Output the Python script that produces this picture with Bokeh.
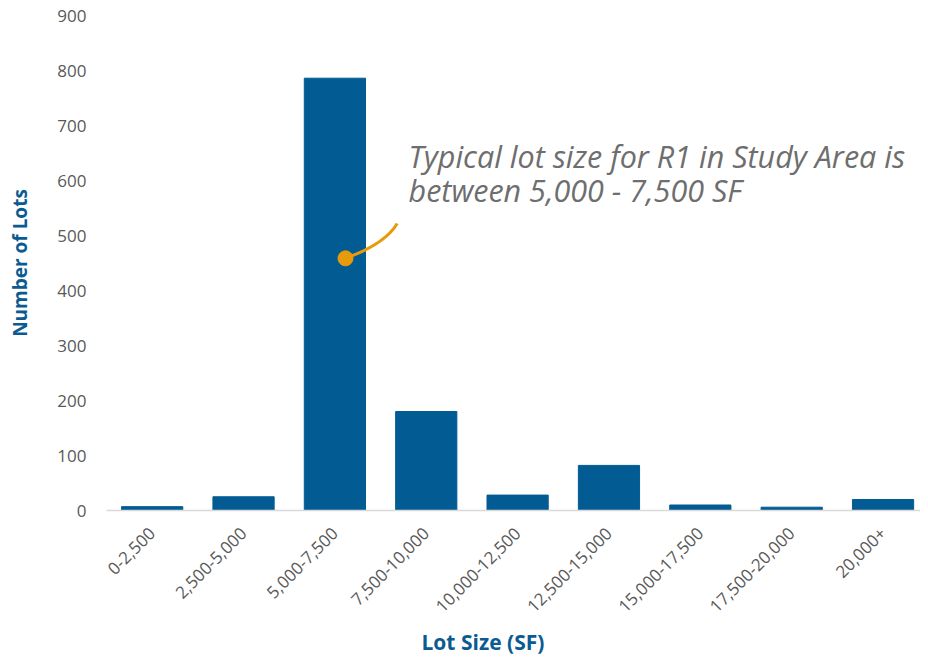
import math
from bokeh.plotting import figure
from bokeh.models import Range1d, FixedTicker, Label, Title, ColumnDataSource
from bokeh.embed import file_html
from bokeh.resources import INLINE

# ---- data ----
categories = ["0-2,500", "2,500-5,000", "5,000-7,500", "7,500-10,000",
              "10,000-12,500", "12,500-15,000", "15,000-17,500",
              "17,500-20,000", "20,000+"]
lots = [7, 25, 786, 180, 28, 82, 10, 6, 20]
y_ticks = [0, 100, 200, 300, 400, 500, 600, 700, 800, 900]

annotation_lines = ["Typical lot size for R1 in Study Area is",
                    "between 5,000 - 7,500 SF"]

BAR_COLOR = "#035B93"
ORANGE = "#E89B0A"
BLUE_TITLE = "#0A5B91"
GREY = "#595959"

xs = list(range(len(categories)))
src = ColumnDataSource(dict(x=xs, top=lots))

p = figure(width=920, height=660, output_backend="svg", toolbar_location=None,
           x_range=Range1d(-0.5, 8.41), y_range=Range1d(0, 900),
           min_border_left=106, min_border_right=0, min_border_top=15,
           min_border_bottom=149)
p.outline_line_color = None
p.background_fill_color = "white"
p.border_fill_color = "white"
p.xgrid.grid_line_color = None
p.ygrid.grid_line_color = None

p.vbar(x="x", top="top", width=0.67, source=src, color=BAR_COLOR)

# axes
p.xaxis.ticker = FixedTicker(ticks=xs)
p.xaxis.major_label_overrides = {i: c for i, c in enumerate(categories)}
p.xaxis.major_label_orientation = math.pi / 4
p.xaxis.major_tick_line_color = None
p.xaxis.minor_tick_line_color = None
p.xaxis.major_tick_out = 0
p.xaxis.axis_line_color = "#D9D9D9"
p.xaxis.axis_line_width = 1.5
p.xaxis.major_label_text_font = "Open Sans"
p.xaxis.major_label_text_font_size = "17px"
p.xaxis.major_label_text_color = GREY
p.xaxis.major_label_standoff = 20

p.yaxis.ticker = FixedTicker(ticks=y_ticks)
p.yaxis.axis_line_color = None
p.yaxis.major_tick_line_color = None
p.yaxis.minor_tick_line_color = None
p.yaxis.major_tick_out = 0
p.yaxis.major_label_text_font = "Open Sans"
p.yaxis.major_label_text_font_size = "17px"
p.yaxis.major_label_text_color = GREY
p.yaxis.major_label_standoff = 20
p.yaxis.axis_label = "Number of Lots"
p.yaxis.axis_label_standoff = 21
p.yaxis.axis_label_text_font = "Open Sans"
p.yaxis.axis_label_text_font_style = "bold"
p.yaxis.axis_label_text_font_size = "19px"
p.yaxis.axis_label_text_color = BLUE_TITLE

# x axis title
xt = Title(text="Lot Size (SF)", align="left", offset=315,
           text_font="Open Sans", text_font_style="bold", text_font_size="21px",
           text_color=BLUE_TITLE, standoff=10)
p.add_layout(xt, "below")

# annotation
p.quadratic(x0=[2.116], y0=[458.5], x1=[2.682], y1=[522], cx=[2.554], cy=[485.4],
            line_color=ORANGE, line_width=3)
p.scatter(x=[2.116], y=[458.5], size=15, color=ORANGE)

for txt, yy in zip(annotation_lines, [644, 582]):
    p.add_layout(Label(x=2.806, y=yy, text=txt, text_font="Open Sans",
                       text_font_style="italic", text_font_size="30.5px",
                       text_color="#6E6E6E", text_baseline="alphabetic"))

open("out.html", "w").write(file_html(p, INLINE))
